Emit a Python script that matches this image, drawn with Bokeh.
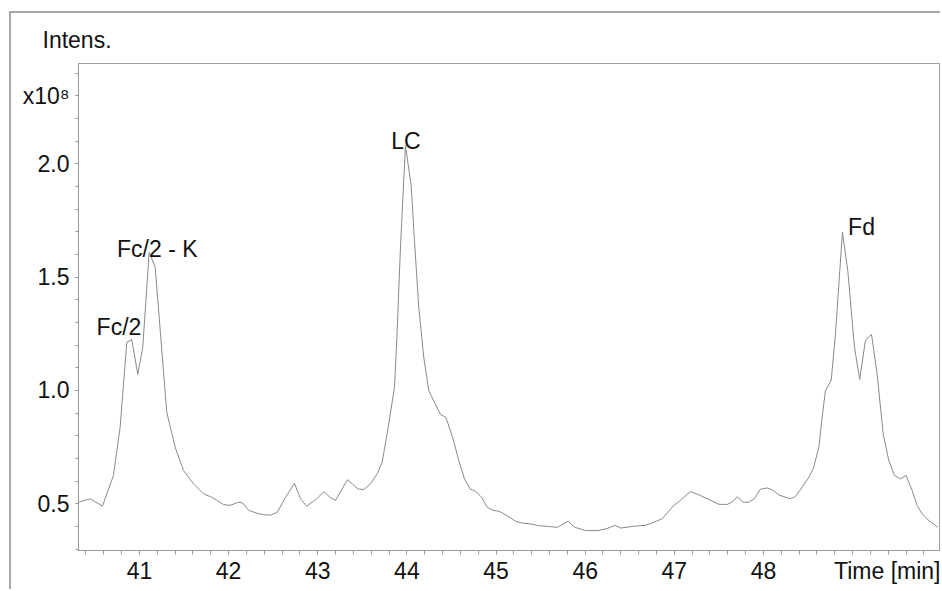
from bokeh.plotting import figure
from bokeh.models import FixedTicker, Label, Range1d, PrintfTickFormatter
from bokeh.embed import file_html
from bokeh.resources import INLINE

# Chromatogram trace (time in min, intensity in units of 1e8)
time_min = [40.316, 40.447, 40.585, 40.708, 40.783, 40.858, 40.914, 40.981, 41.037, 41.109,
            41.176, 41.306, 41.400, 41.494, 41.606, 41.718, 41.811, 41.942, 42.017, 42.111,
            42.159, 42.226, 42.335, 42.394, 42.470, 42.545, 42.638, 42.739, 42.806, 42.877,
            42.986, 43.072, 43.139, 43.199, 43.333, 43.453, 43.516, 43.591, 43.667, 43.723,
            43.785, 43.861, 43.891, 43.928, 43.984, 44.048, 44.085, 44.133, 44.189, 44.245,
            44.321, 44.377, 44.438, 44.517, 44.582, 44.646, 44.708, 44.769, 44.837, 44.901,
            44.968, 45.035, 45.100, 45.162, 45.224, 45.297, 45.386, 45.487, 45.588, 45.686,
            45.809, 45.880, 46.003, 46.143, 46.247, 46.336, 46.396, 46.545, 46.676, 46.769,
            46.864, 46.990, 47.080, 47.181, 47.265, 47.377, 47.499, 47.593, 47.652, 47.705,
            47.772, 47.835, 47.896, 47.966, 48.041, 48.107, 48.177, 48.303, 48.359, 48.434,
            48.505, 48.561, 48.623, 48.658, 48.696, 48.760, 48.808, 48.886, 48.946, 49.021,
            49.080, 49.144, 49.212, 49.275, 49.343, 49.406, 49.470, 49.537, 49.601, 49.668,
            49.724, 49.780, 49.854, 49.955]
intensity = [0.507, 0.522, 0.490, 0.625, 0.838, 1.213, 1.224, 1.071, 1.191, 1.610,
             1.544, 0.904, 0.750, 0.647, 0.588, 0.544, 0.529, 0.497, 0.493, 0.507,
             0.503, 0.471, 0.456, 0.452, 0.450, 0.462, 0.528, 0.590, 0.522, 0.489,
             0.522, 0.554, 0.528, 0.515, 0.606, 0.565, 0.563, 0.588, 0.633, 0.684,
             0.824, 1.015, 1.265, 1.632, 2.081, 1.904, 1.662, 1.367, 1.147, 1.000,
             0.938, 0.894, 0.881, 0.788, 0.691, 0.610, 0.566, 0.555, 0.529, 0.485,
             0.471, 0.467, 0.453, 0.438, 0.422, 0.415, 0.411, 0.403, 0.400, 0.396,
             0.423, 0.397, 0.382, 0.382, 0.391, 0.405, 0.393, 0.401, 0.405, 0.418,
             0.434, 0.491, 0.519, 0.554, 0.541, 0.521, 0.498, 0.497, 0.508, 0.531,
             0.507, 0.507, 0.522, 0.564, 0.570, 0.560, 0.538, 0.522, 0.532, 0.573,
             0.614, 0.656, 0.753, 0.882, 1.000, 1.044, 1.250, 1.698, 1.529, 1.191,
             1.049, 1.221, 1.247, 1.074, 0.809, 0.691, 0.625, 0.610, 0.625, 0.559,
             0.493, 0.456, 0.427, 0.397]

# Peak annotations
peak_names = ["Fc/2", "Fc/2 - K", "LC", "Fd"]
peak_label_x = [40.77, 41.20, 43.99, 49.10]
peak_label_y = [1.278, 1.622, 2.098, 1.719]

# Axis ticks and labels
x_major_ticks = [41, 42, 43, 44, 45, 46, 47, 48, 49.4]
x_label_overrides = {49.4: "Time [min]"}
y_major_ticks = [0.5, 1.0, 1.5, 2.0, 2.3]
y_label_overrides = {2.3: "x10\u2078"}
x_minor_ticks = [round(40.4 + 0.2 * i, 1) for i in range(48)]
y_minor_ticks = [round(0.3 + 0.1 * i, 1) for i in range(22)]

X_START, X_END = 40.316, 49.975
Y_START, Y_END = 0.294, 2.442

FONT = "Liberation Sans"
FS = "23px"

p = figure(width=931, height=578, output_backend="svg", toolbar_location=None,
           x_range=Range1d(X_START, X_END), y_range=Range1d(Y_START, Y_END),
           min_border_left=67, min_border_right=3, min_border_top=50, min_border_bottom=41)
p.styles = {"margin-left": "9px", "margin-top": "11px",
            "border-top": "2px solid #a8a8a8", "border-left": "2px solid #a8a8a8"}
p.grid.visible = False
p.outline_line_color = "#a0a0a0"
p.outline_line_width = 1
p.background_fill_color = "white"
p.border_fill_color = "white"

p.title.text = "Intens."
p.title.align = "left"
p.title.offset = -36
p.title.vertical_align = "bottom"
p.title.standoff = 22
p.title.text_font = FONT
p.title.text_font_size = FS
p.title.text_font_style = "normal"
p.title.text_color = "#111111"

p.line(time_min, intensity, line_color="#8a8a8a", line_width=1)

# X axis
xa = p.xaxis[0]
xa.ticker = FixedTicker(ticks=x_major_ticks, minor_ticks=x_minor_ticks)
xa.major_label_overrides = x_label_overrides
xa.axis_line_color = "#999999"
xa.major_tick_line_color = "#999999"
xa.minor_tick_line_color = "#999999"
xa.major_tick_in = 0
xa.major_tick_out = 4
xa.minor_tick_in = 0
xa.minor_tick_out = 4
xa.major_label_standoff = 3
xa.major_label_text_font = FONT
xa.major_label_text_font_size = FS
xa.major_label_text_color = "#111111"

# Y axis
ya = p.yaxis[0]
ya.ticker = FixedTicker(ticks=y_major_ticks, minor_ticks=y_minor_ticks)
ya.formatter = PrintfTickFormatter(format="%.1f")
ya.major_label_overrides = y_label_overrides
ya.axis_line_color = "#999999"
ya.major_tick_line_color = "#999999"
ya.minor_tick_line_color = "#999999"
ya.major_tick_in = 0
ya.major_tick_out = 3
ya.minor_tick_in = 0
ya.minor_tick_out = 3
ya.major_label_standoff = 6
ya.major_label_text_font = FONT
ya.major_label_text_font_size = FS
ya.major_label_text_color = "#111111"

for name, lx, ly in zip(peak_names, peak_label_x, peak_label_y):
    p.add_layout(Label(x=lx, y=ly, text=name, text_font=FONT, text_font_size=FS,
                       text_color="#111111", text_align="center",
                       text_baseline="alphabetic"))

open("out.html", "w").write(file_html(p, INLINE))
